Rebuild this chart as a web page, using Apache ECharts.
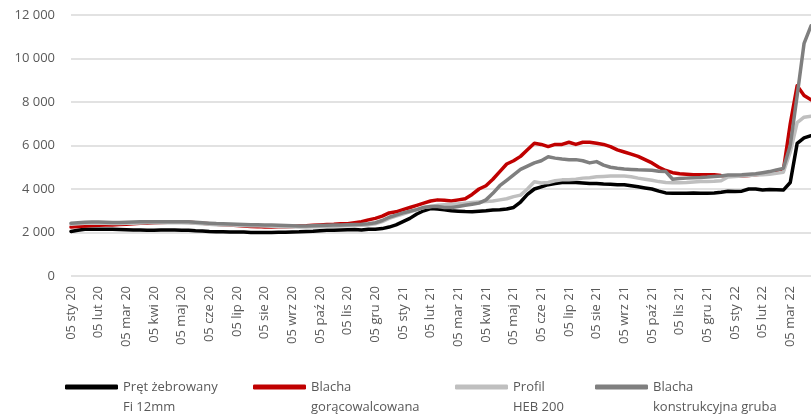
<!DOCTYPE html>
<html>
<head>
<meta charset="utf-8">
<title>Ceny stali</title>
<script src="https://cdn.jsdelivr.net/npm/echarts@6/dist/echarts.min.js"></script>
<style>
    html, body { margin: 0; padding: 0; background: #fff; }
    #main { width: 811px; height: 416px; }
</style>
</head>
<body>
<div id="main"></div>
<script>
// etykiety osi X (co miesiac), dane tygodniowe - 4 punkty na miesiac
var months = ['05 sty 20', '05 lut 20', '05 mar 20', '05 kwi 20', '05 maj 20', '05 cze 20', '05 lip 20',
    '05 sie 20', '05 wrz 20', '05 paź 20', '05 lis 20', '05 gru 20', '05 sty 21', '05 lut 21', '05 mar 21',
    '05 kwi 21', '05 maj 21', '05 cze 21', '05 lip 21', '05 sie 21', '05 wrz 21', '05 paź 21', '05 lis 21',
    '05 gru 21', '05 sty 22', '05 lut 22', '05 mar 22'];

var names = ['Pręt żebrowany\nFi 12mm', 'Blacha\ngorącowalcowana', 'Profil\nHEB 200', 'Blacha\nkonstrukcyjna gruba'];
var colors = ['#000000', '#c00000', '#bfbfbf', '#7f7f7f'];
var legendLeft = [65, 253, 455, 595];
var yTicks = [0, 2000, 4000, 6000, 8000, 10000, 12000];

var pret = [
    2050, 2100, 2150, 2150,  2150, 2150, 2150, 2140,  2130, 2120, 2110, 2100,  2100, 2110, 2120, 2110,
    2100, 2100, 2080, 2070,  2050, 2040, 2030, 2020,  2020, 2020, 2000, 2000,  2000, 2000, 2010, 2010,
    2020, 2030, 2050, 2060,  2080, 2100, 2100, 2120,  2130, 2140, 2120, 2150,  2150, 2180, 2250, 2350,
    2500, 2650, 2850, 3000,  3100, 3080, 3050, 3000,  2980, 2960, 2950, 2980,  3000, 3030, 3050, 3080,
    3150, 3400, 3750, 4000,  4100, 4200, 4250, 4300,  4300, 4300, 4280, 4250,  4250, 4230, 4220, 4200,
    4200, 4150, 4100, 4050,  4000, 3900, 3820, 3800,  3800, 3800, 3820, 3800,  3800, 3820, 3850, 3900,
    3880, 3900, 4000, 4000,  3950, 3980, 3970, 3950,  4300, 6100, 6350, 6450
];
var blachaGor = [
    2250, 2280, 2300, 2320,  2330, 2350, 2350, 2370,  2380, 2400, 2420, 2430,  2450, 2460, 2470, 2480,
    2480, 2470, 2450, 2420,  2400, 2380, 2360, 2340,  2320, 2300, 2280, 2270,  2250, 2250, 2260, 2270,
    2280, 2300, 2310, 2330,  2350, 2370, 2380, 2400,  2400, 2450, 2500, 2580,  2650, 2750, 2900, 2950,
    3050, 3150, 3250, 3350,  3450, 3500, 3480, 3450,  3500, 3550, 3750, 4000,  4150, 4450, 4800, 5150,
    5300, 5500, 5800, 6100,  6050, 5950, 6050, 6050,  6150, 6050, 6150, 6150,  6100, 6050, 5950, 5800,
    5700, 5600, 5500, 5350,  5200, 5000, 4850, 4750,  4700, 4680, 4660, 4650,  4650, 4650, 4620, 4600,
    4600, 4600, 4620, 4650,  4700, 4750, 4780, 4850,  7000, 8750, 8300, 8100
];
var profil = [
    2380, 2400, 2420, 2420,  2420, 2420, 2410, 2410,  2420, 2430, 2440, 2450,  2450, 2450, 2450, 2450,
    2450, 2440, 2420, 2400,  2380, 2360, 2350, 2340,  2330, 2320, 2310, 2310,  2300, 2290, 2280, 2270,
    2260, 2250, 2250, 2260,  2270, 2280, 2290, 2300,  2310, 2320, 2330, 2350,  2400, 2500, 2650, 2750,
    2850, 2950, 3050, 3150,  3200, 3250, 3280, 3300,  3320, 3350, 3380, 3400,  3420, 3450, 3500, 3550,
    3650, 3720, 4000, 4330,  4280, 4300, 4380, 4420,  4420, 4450, 4500, 4520,  4560, 4580, 4600, 4600,
    4600, 4560, 4500, 4450,  4400, 4340, 4300, 4290,  4290, 4300, 4320, 4340,  4350, 4360, 4380, 4550,
    4570, 4600, 4620, 4640,  4650, 4680, 4720, 4770,  5700, 7050, 7300, 7350
];
var blachaKon = [
    2430, 2450, 2470, 2480,  2480, 2470, 2460, 2460,  2470, 2480, 2490, 2500,  2500, 2500, 2500, 2500,
    2500, 2490, 2470, 2450,  2430, 2410, 2400, 2390,  2380, 2370, 2360, 2360,  2350, 2340, 2330, 2320,
    2310, 2300, 2300, 2310,  2320, 2330, 2340, 2350,  2360, 2370, 2380, 2400,  2450, 2550, 2700, 2800,
    2900, 2980, 3050, 3150,  3200, 3200, 3150, 3150,  3200, 3250, 3300, 3350,  3500, 3800, 4150, 4400,
    4650, 4900, 5050, 5200,  5300, 5480, 5420, 5380,  5350, 5350, 5300, 5200,  5260, 5100, 5000, 4950,
    4920, 4900, 4880, 4870,  4860, 4820, 4800, 4450,  4480, 4500, 4520, 4530,  4550, 4580, 4600, 4640,
    4640, 4650, 4680, 4700,  4750, 4800, 4880, 4950,  6000, 8300, 10700, 11500
];
var seriesData = [pret, blachaGor, profil, blachaKon];

// kategorie tygodniowe (4 na miesiac)
var categories = [];
for (var i = 0; i < months.length * 4; i++) {
    categories.push('t' + i);
}

function fmtNum(v) {
    return String(v).replace(/\B(?=(\d{3})+(?!\d))/g, ' ');
}

var font = 'Open Sans';
var txtColor = '#595959';

var series = [];
var legends = [];
for (var s = 0; s < names.length; s++) {
    series.push({
        name: names[s],
        type: 'line',
        data: seriesData[s],
        symbol: 'none',
        smooth: false,
        color: colors[s],
        lineStyle: { width: 3.5, color: colors[s], join: 'round', cap: 'round' }
    });
    legends.push({
        data: [names[s]],
        left: legendLeft[s],
        top: 357,
        padding: 0,
        icon: 'roundRect',
        itemWidth: 53,
        itemHeight: 5,
        selectedMode: false,
        // pusta linia na gorze -> pierwsza linia tekstu na wysokosci ikony
        formatter: function (name) {
            return '\n' + name;
        },
        textStyle: {
            fontFamily: font,
            fontSize: 13,
            color: txtColor,
            lineHeight: 20,
            align: 'left'
        }
    });
}

var myChart = echarts.init(document.getElementById('main'));
var option = {
    animation: false,
    backgroundColor: '#fff',
    grid: { left: 71, right: -4, top: 15, bottom: 140, containLabel: false },
    legend: legends,
    xAxis: {
        type: 'category',
        data: categories,
        boundaryGap: false,
        axisLine: { show: false },
        axisTick: { show: false },
        splitLine: { show: false },
        axisLabel: {
            interval: 3,
            rotate: 90,
            margin: 10,
            fontFamily: font,
            fontSize: 13,
            color: txtColor,
            formatter: function (value, idx) {
                return idx % 4 === 0 ? months[idx / 4] : '';
            }
        }
    },
    yAxis: {
        type: 'value',
        min: yTicks[0],
        max: yTicks[yTicks.length - 1],
        interval: 2000,
        axisLine: { show: false },
        axisTick: { show: false },
        splitLine: { lineStyle: { color: '#d9d9d9', width: 1.5 } },
        axisLabel: {
            margin: 16,
            fontFamily: font,
            fontSize: 13,
            color: txtColor,
            formatter: fmtNum
        }
    },
    series: series
};
myChart.setOption(option);
</script>
</body>
</html>
